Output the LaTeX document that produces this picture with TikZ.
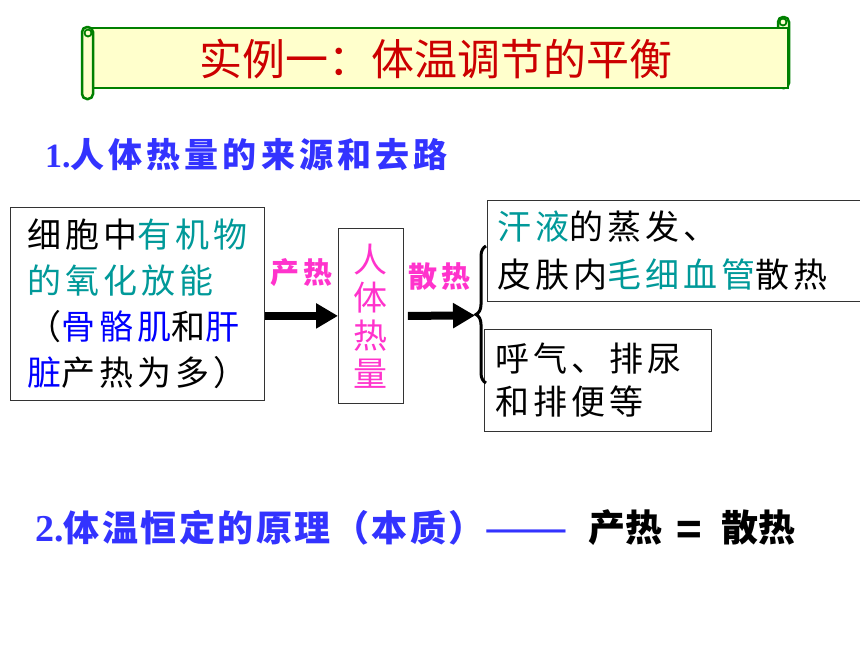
\documentclass[tikz,border=0pt]{standalone}
\usepackage{fontspec}
\usepackage{tikz}
\usetikzlibrary{arrows.meta,decorations.pathreplacing,positioning}
\setmainfont{Liberation Serif}
\newfontfamily\cjk{Noto Sans CJK SC}
\newfontfamily\cjksp[LetterSpace=12]{Noto Sans CJK SC}
\newfontfamily\cjkhd[LetterSpace=12]{Noto Sans CJK SC}
\newfontfamily\cjkeq[LetterSpace=7]{Noto Sans CJK SC}
\definecolor{scrollgreen}{RGB}{0,128,0}
\definecolor{scrollfill}{RGB}{255,255,204}
\definecolor{titlered}{RGB}{204,0,0}
\definecolor{headblue}{RGB}{51,51,255}
\definecolor{organic}{RGB}{0,153,153}
\definecolor{organ}{RGB}{0,0,255}
\definecolor{heatpink}{RGB}{255,51,204}

\begin{document}
\begin{tikzpicture}[x=1pt,y=-1pt,
    scroll/.style={line width=2.5pt, draw=scrollgreen, fill=scrollfill},
    txtbox/.style={draw=black!80, line width=0.8pt, fill=white, inner sep=0pt,
                   align=left, font=\cjksp\fontsize{34}{46}\selectfont},
    bigarrow/.style={line width=8pt, -{Triangle[length=22pt,width=24pt]}},
    heatlbl/.style={text=heatpink, inner sep=0pt,
                    font=\cjksp\bfseries\fontsize{29}{30}\selectfont}]
        \useasboundingbox (0,0) rectangle (860,645);
        \draw [scroll, rounded corners=5pt] (778,17) rectangle (789,88);  %right roll
        \draw [scroll] (88,28) rectangle (788,88);                         %banner
        \draw [scroll, rounded corners=5pt] (82,27) rectangle (93,99);    %left roll
        \draw [scrollgreen, line width=1.8pt] (88,33) circle (3.5pt);     %
        \draw [scrollgreen, line width=1.8pt] (783,22) circle (3.5pt);    %
        \node (title) [text=titlered, font=\cjk\fontsize{43}{43}\selectfont]
              at (436,59) {实例一：体温调节的平衡};

        \node (head1) [anchor=west, text=headblue, inner sep=0pt,
              font=\fontsize{34}{34}\selectfont\bfseries]
              at (45,155) {1.\cjkhd 人体热量的来源和去路};

        \node (src) [txtbox, anchor=north west, minimum width=254pt, minimum height=193pt]
              at (10,207) {细胞中{\color{organic}有机物}\\{\color{organic}的氧化放能}\\%
              （{\color{organ}骨骼肌}和{\color{organ}肝}\\{\color{organ}脏}产热为多）};
        \node (heat) [txtbox, anchor=north west, minimum width=65pt, minimum height=175pt,
              align=center, text=heatpink, font=\cjk\fontsize{34}{38}\selectfont]
              at (338,228) {人\\体\\热\\量};
        \node (loss1) [txtbox, anchor=north west, minimum width=383pt, minimum height=101pt,
              text width=363pt, inner xsep=10pt, font=\cjksp\fontsize{34}{48}\selectfont]
              at (487,200) {{\color{organic}汗液}的蒸发、\\皮肤内{\color{organic}毛细血管}散热};
        \node (loss2) [txtbox, anchor=north west, minimum width=227pt, minimum height=102pt,
              text width=205pt, inner xsep=11pt, font=\cjksp\fontsize{34}{43}\selectfont]
              at (484,329) {呼气、排尿\\和排便等};

        \coordinate (split) at (475,315.5);                               %brace tip
        \draw [bigarrow] (src.east |- heat.west) -- (heat.west)
              node [heatlbl, midway, above=25pt] (prodlbl) {产热};
        \draw [bigarrow, shorten <=4pt] (heat.east) -- (split)
              node [heatlbl, midway, above=21pt] (losslbl) {散热};
        \draw [decorate, decoration={brace, amplitude=10pt}, line width=3pt]
              (486,383) -- (486,246);                                      %

        \node (head2) [anchor=west, text=headblue, inner sep=0pt,
              font=\fontsize{36}{36}\selectfont\bfseries]
              at (35,528) {{\fontsize{38}{38}\selectfont 2.}\cjkeq 体温恒定的原理（本质）%
              \raisebox{-4.5pt}{\cjk\mdseries\fontsize{50}{50}\selectfont ——}};
        \node (eqn) [anchor=west, inner sep=0pt, font=\cjk\fontsize{37}{37}\selectfont\bfseries]
              at (588,528) {产热\hspace{14pt}\raisebox{-4pt}{\fontsize{42}{37}\selectfont =}\hspace{20pt}散热};
\end{tikzpicture}
\end{document}
